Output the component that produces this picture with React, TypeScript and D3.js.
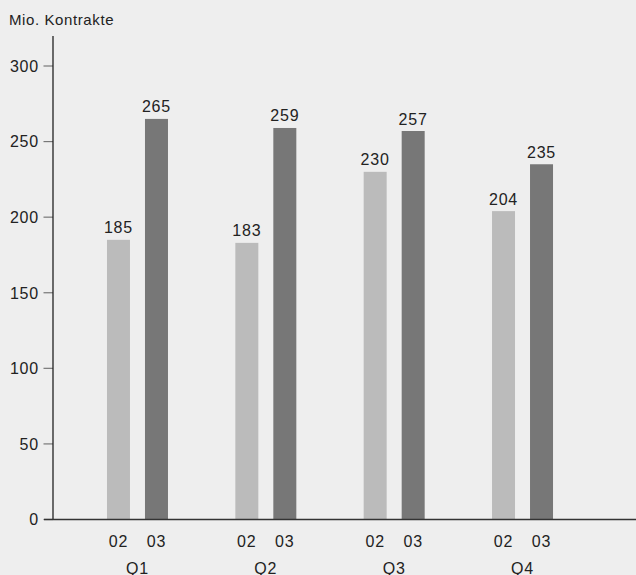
import React from "react";
import * as d3 from "d3";

const quarters = ["Q1", "Q2", "Q3", "Q4"];
const years = ["02", "03"];
const values02 = [185, 183, 230, 204];
const values03 = [265, 259, 257, 235];
const yTicks = [0, 50, 100, 150, 200, 250, 300];
const yTitle = "Mio. Kontrakte";

const W = 636;
const H = 575;
const axisX = 53;
const axisY = 519.5;
const FONT = "'Liberation Sans', Arial, sans-serif";

export default function App() {
  const y = d3.scaleLinear().domain([0, 300]).range([axisY, 66]);
  const x0 = d3.scaleBand<string>().domain(quarters).range([73.3, 586.7]);
  const groupW = 61;
  const x1 = d3
    .scaleBand<string>()
    .domain(years)
    .range([0, groupW])
    .paddingInner(15 / 38)
    .paddingOuter(0);
  const colors: Record<string, string> = { "02": "#bbbbbb", "03": "#777777" };
  const series: Record<string, number[]> = { "02": values02, "03": values03 };

  return (
    <svg
      width={W}
      height={H}
      style={{ position: "absolute", left: 0, top: 0, display: "block" }}
      fontFamily={FONT}
    >
      <rect x={0} y={0} width={W} height={H} fill="#eeeeee" />
      <text x={9} y={25} fontSize={15} fill="#222" letterSpacing={0.6}>
        {yTitle}
      </text>
      {quarters.map((q, qi) => {
        const gx = (x0(q) as number) + (x0.bandwidth() - groupW) / 2;
        return (
          <g key={q}>
            {years.map((yr) => {
              const v = series[yr][qi];
              const bx = gx + (x1(yr) as number);
              const bw = x1.bandwidth();
              return (
                <g key={yr}>
                  <rect
                    x={bx}
                    y={y(v)}
                    width={bw}
                    height={axisY - y(v)}
                    fill={colors[yr]}
                  />
                  <text
                    x={bx + bw / 2}
                    y={y(v) - 6.5}
                    textAnchor="middle"
                    fontSize={16}
                    letterSpacing={0.8}
                    fill="#222"
                  >
                    {v}
                  </text>
                  <text
                    x={bx + bw / 2}
                    y={547}
                    textAnchor="middle"
                    fontSize={16}
                    letterSpacing={0.8}
                    fill="#222"
                  >
                    {yr}
                  </text>
                </g>
              );
            })}
            <text
              x={gx + groupW / 2}
              y={574}
              textAnchor="middle"
              fontSize={16}
              letterSpacing={0.8}
              fill="#222"
            >
              {q}
            </text>
          </g>
        );
      })}
      {yTicks.map((t) => (
        <g key={t}>
          <line x1={43.5} x2={axisX} y1={y(t)} y2={y(t)} stroke="#777" strokeWidth={1.2} />
          <text
            x={39}
            y={y(t)}
            dy="0.36em"
            textAnchor="end"
            fontSize={16}
            letterSpacing={0.8}
            fill="#222"
          >
            {t}
          </text>
        </g>
      ))}
      <line x1={axisX} x2={axisX} y1={36} y2={axisY} stroke="#222" strokeWidth={1.3} />
      <line x1={axisX - 9} x2={W} y1={axisY} y2={axisY} stroke="#333" strokeWidth={1.3} />
    </svg>
  );
}
